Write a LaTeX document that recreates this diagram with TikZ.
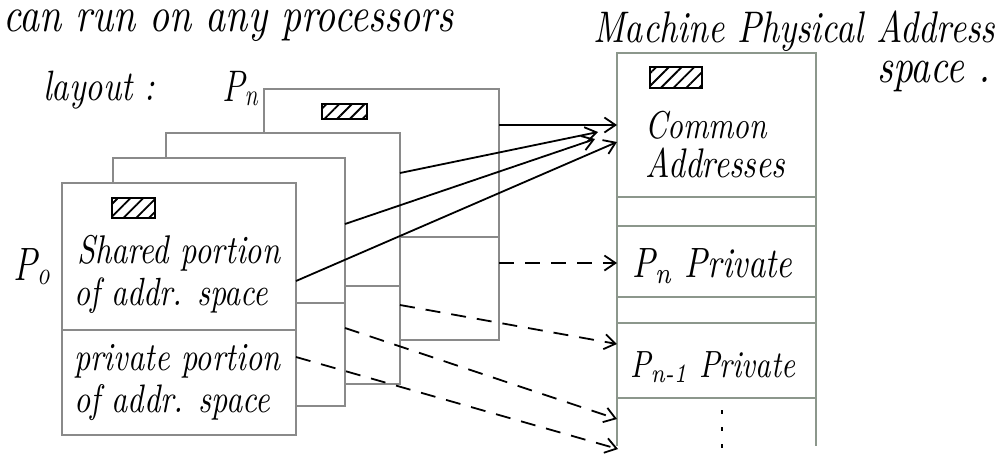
\documentclass[tikz,border=0pt]{standalone}
\usetikzlibrary{arrows.meta,patterns.meta}
\definecolor{framegray}{HTML}{8A8A8A}
\definecolor{memgray}{HTML}{8C978C}
% handwritten-style label: squeezed to a given width (in pt), a little taller than the font
\newcommand\handw[2]{\scalebox{1}[1.25]{\resizebox{#1pt}{!}{\itshape #2}}}
\begin{document}
\begin{tikzpicture}[x=1pt,y=-1pt,
  frame/.style={draw=framegray,line width=1.5pt,fill=white,inner sep=0pt,outer sep=0pt,
    anchor=north west,minimum width=234pt,minimum height=251pt},
  divider/.style={draw=framegray,line width=1.5pt},
  memline/.style={draw=memgray,line width=1.7pt},
  hatchbox/.style={draw=black,line width=1.8pt,pattern color=black,
    pattern={Lines[angle=45,distance=9pt,line width=1.8pt]}},
  lbl/.style={inner sep=0pt,anchor=base west,text=black},
  shared/.style={draw=black,line width=1.8pt,
    -{Straight Barb[length=11pt,width=15pt,line width=1.8pt]}},
  private/.style={shared,dash pattern=on 15pt off 11pt},
]
\useasboundingbox (0,0) rectangle (998,456);

% headings
\node[lbl] (title1) at (3,31) {\handw{450}{can run on any processors}};
\node[lbl] (title2) at (43,100) {\handw{112}{layout :}};
\node[lbl] (mtitle1) at (593,42) {\handw{402}{Machine Physical Address}};
\node[lbl] (mtitle2) at (877,82) {\handw{113}{space .}};

% per-processor address spaces, back to front
\node[frame,minimum width=235pt] (pn) at (264,89) {};
\draw[divider] (pn.north west) ++(0,148) -- ++(235,0);
\draw[hatchbox] (322,104) rectangle (367,119);

\node[frame] (f3) at (166,133) {};
\draw[divider] (f3.north west) ++(0,153) -- ++(234,0);

\node[frame,minimum width=232pt,minimum height=248pt] (f2) at (113,158) {};
\draw[divider] (f2.north west) ++(0,145) -- ++(232,0);

\node[frame,minimum height=252pt] (f1) at (62,183) {};
\draw[divider] (f1.north west) ++(0,147) -- ++(234,0);
\draw[hatchbox] (112,198) rectangle (155,218);

\node[lbl] (pnname) at (222,101) {\scalebox{1}[1.3]{\fontsize{34}{34}\selectfont\itshape P\textsubscript{n}}};
\node[lbl] (p0name) at (13,280) {\scalebox{1}[1.3]{\fontsize{36}{36}\selectfont\itshape P\textsubscript{o}}};

\node[lbl] (sh1) at (77,263) {\handw{203}{Shared portion}};
\node[lbl] (sh2) at (74,305) {\handw{194}{of addr. space}};
\node[lbl] (pr1) at (74,370) {\handw{206}{private portion}};
\node[lbl] (pr2) at (74,412) {\handw{196}{of addr. space}};

% machine physical address space (open at the bottom)
\draw[memline] (617,446) -- (617,53) -- (816,53) -- (816,446);
\foreach \yy in {197,226,297,323,398}
  \draw[memline] (617,\yy) -- (816,\yy);
\draw[hatchbox] (650,67) rectangle (702,88);
\node[lbl] (common) at (645,138) {\handw{122}{Common}};
\node[lbl] (addrs) at (645,177) {\handw{140}{Addresses}};
\node[lbl] (pnpriv) at (632,277) {\handw{160}{P\textsubscript{n} Private}};
\node[lbl] (pn1priv) at (630,377) {\handw{165}{P\textsubscript{n-1} Private}};
\draw[line width=1.9pt,dash pattern=on 4pt off 13pt] (722,410) -- (722,452);

% connector end points
\path (pn.north east) ++(0,36)  coordinate (pn-s)
      (pn.north east) ++(0,174) coordinate (pn-p)
      (f3.north east) ++(0,40)  coordinate (f3-s)
      (f3.north east) ++(0,172) coordinate (f3-p)
      (f2.north east) ++(0,66)  coordinate (f2-s)
      (f2.north east) ++(0,170) coordinate (f2-p)
      (f1.north east) ++(0,98)  coordinate (f1-s)
      (f1.north east) ++(0,174) coordinate (f1-p);
\coordinate (c-pn) at (617,125);
\coordinate (c-f3) at (598,132);
\coordinate (c-f2) at (595,139);
\coordinate (c-f1) at (617,142);
\coordinate (v-pn) at (617,263);
\coordinate (v-f3) at (617,344);
\coordinate (v-f2) at (617,419);
\coordinate (v-f1) at (618,449);

% shared portions map to the common addresses
\draw[shared] (pn-s) -- (c-pn);
\draw[shared] (f3-s) -- (c-f3);
\draw[shared] (f2-s) -- (c-f2);
\draw[shared] (f1-s) -- (c-f1);

% private portions map to their own regions
\draw[private] (pn-p) -- (v-pn);
\draw[private] (f3-p) -- (v-f3);
\draw[private] (f2-p) -- (v-f2);
\draw[private] (f1-p) -- (v-f1);
\end{tikzpicture}
\end{document}
